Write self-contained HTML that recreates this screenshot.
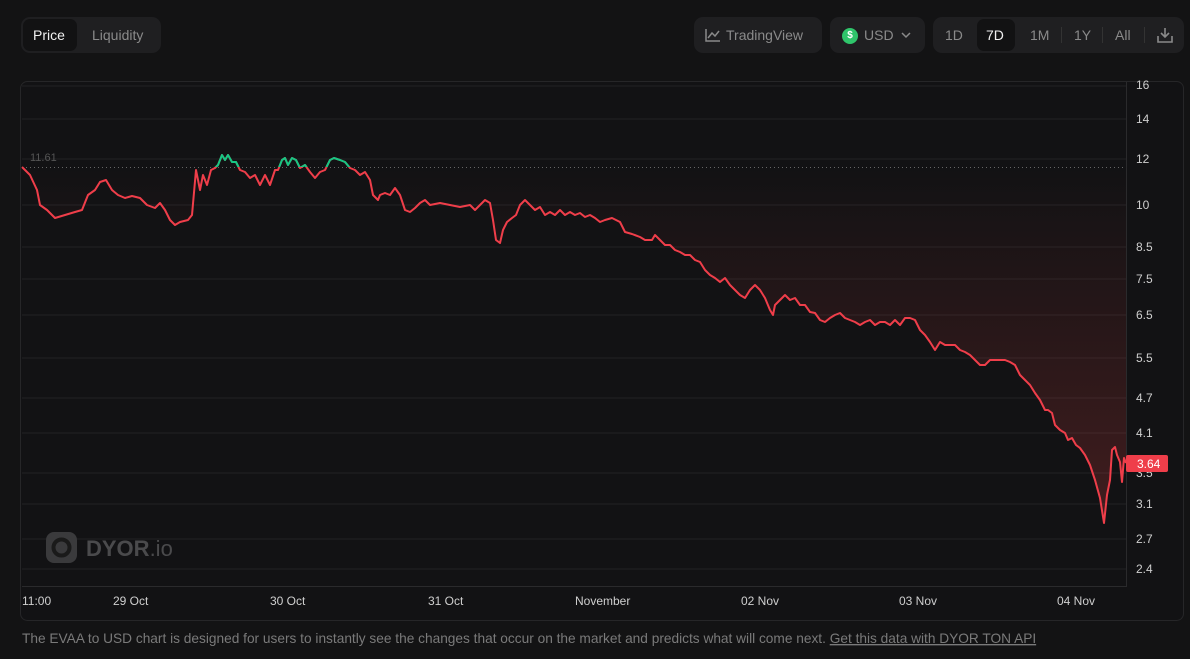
<!DOCTYPE html>
<html><head><style>
body{margin:0;background:#131314;font-family:"Liberation Sans",sans-serif;width:1190px;height:659px;overflow:hidden;position:relative;color:#ddd}
.box{position:absolute;background:#1f1f21;border-radius:9px}
.t{position:absolute;font-size:14px}
</style></head><body>
<div class="box" style="left:21px;top:17px;width:140px;height:36px"></div>
<div class="box" style="left:23px;top:19px;width:54px;height:32px;background:#121213;border-radius:7px"></div>
<div class="t" style="left:33px;top:27px;color:#f0f0f0">Price</div>
<div class="t" style="left:92px;top:27px;color:#8a8a8a">Liquidity</div>

<div class="box" style="left:694px;top:17px;width:128px;height:36px"></div>
<svg style="position:absolute;left:705px;top:27px" width="16" height="16"><path d="M1 2V14H15M3 11L7 6L10 9L14 4" stroke="#8a8a8a" stroke-width="1.5" fill="none"/></svg>
<div class="t" style="left:726px;top:27px;color:#8a8a8a">TradingView</div>
<div class="box" style="left:830px;top:17px;width:95px;height:36px"></div>
<div style="position:absolute;left:842px;top:28px;width:16px;height:16px;border-radius:50%;background:#2fc56b;color:#fff;font-size:10px;font-weight:bold;text-align:center;line-height:16px">$</div>
<div class="t" style="left:864px;top:27px;color:#8a8a8a">USD</div>
<svg style="position:absolute;left:900px;top:31px" width="12" height="8"><path d="M2 2L6 6L10 2" stroke="#8a8a8a" stroke-width="1.5" fill="none"/></svg>
<div class="box" style="left:933px;top:17px;width:251px;height:36px"></div>
<div class="box" style="left:977px;top:19px;width:38px;height:32px;background:#121213;border-radius:7px"></div>
<div class="t" style="left:945px;top:27px;color:#8a8a8a">1D</div>
<div class="t" style="left:986px;top:27px;color:#f0f0f0">7D</div>
<div class="t" style="left:1030px;top:27px;color:#8a8a8a">1M</div>
<div class="t" style="left:1074px;top:27px;color:#8a8a8a">1Y</div>
<div class="t" style="left:1115px;top:27px;color:#8a8a8a">All</div>
<div style="position:absolute;left:1061px;top:27px;width:1px;height:16px;background:#333"></div>
<div style="position:absolute;left:1102px;top:27px;width:1px;height:16px;background:#333"></div>
<div style="position:absolute;left:1144px;top:27px;width:1px;height:16px;background:#333"></div>
<svg style="position:absolute;left:1156px;top:26px" width="18" height="18"><path d="M9 2V11M5 7L9 11L13 7M2 10V16H16V10" stroke="#8a8a8a" stroke-width="1.6" fill="none"/></svg>

<svg style="position:absolute;left:0;top:0" width="1190" height="659">
<defs>
<linearGradient id="g" x1="0" y1="167" x2="0" y2="530" gradientUnits="userSpaceOnUse"><stop offset="0" stop-color="#ef4444" stop-opacity="0"/><stop offset="1" stop-color="#ef4444" stop-opacity="0.22"/></linearGradient>
<clipPath id="up"><rect x="0" y="0" width="1190" height="167"/></clipPath>
</defs>
<rect x="20.5" y="81.5" width="1163" height="539" rx="7" fill="#121214" stroke="#262628"/>
<g stroke="#222225" stroke-width="1">
<line x1="22" x2="1126" y1="86" y2="86"/><line x1="22" x2="1126" y1="119" y2="119"/><line x1="22" x2="1126" y1="159" y2="159"/><line x1="22" x2="1126" y1="205" y2="205"/><line x1="22" x2="1126" y1="247" y2="247"/><line x1="22" x2="1126" y1="279" y2="279"/><line x1="22" x2="1126" y1="315" y2="315"/><line x1="22" x2="1126" y1="358" y2="358"/><line x1="22" x2="1126" y1="398" y2="398"/><line x1="22" x2="1126" y1="433" y2="433"/><line x1="22" x2="1126" y1="473" y2="473"/><line x1="22" x2="1126" y1="504" y2="504"/><line x1="22" x2="1126" y1="539" y2="539"/><line x1="22" x2="1126" y1="569" y2="569"/>
</g>
<line x1="22" x2="1126" y1="586.5" y2="586.5" stroke="#2a2a2c"/>
<line x1="1126.5" x2="1126.5" y1="82" y2="587" stroke="#2a2a2c"/>
<line x1="22" x2="1126" y1="167.5" y2="167.5" stroke="#666" stroke-dasharray="1 3"/>
<text x="30" y="161" fill="#555" font-size="11">11.61</text>
<g fill="#cfcfcf" font-size="12"><text x="1136" y="89">16</text><text x="1136" y="123">14</text><text x="1136" y="163">12</text><text x="1136" y="209">10</text><text x="1136" y="251">8.5</text><text x="1136" y="283">7.5</text><text x="1136" y="319">6.5</text><text x="1136" y="362">5.5</text><text x="1136" y="402">4.7</text><text x="1136" y="437">4.1</text><text x="1136" y="477">3.5</text><text x="1136" y="508">3.1</text><text x="1136" y="543">2.7</text><text x="1136" y="573">2.4</text></g>
<g fill="#cfcfcf" font-size="12"><text x="22" y="605">11:00</text><text x="113" y="605">29 Oct</text><text x="270" y="605">30 Oct</text><text x="428" y="605">31 Oct</text><text x="575" y="605">November</text><text x="741" y="605">02 Nov</text><text x="899" y="605">03 Nov</text><text x="1057" y="605">04 Nov</text></g>
<polygon fill="url(#g)" points="22,167 30,175 37,190 40,205 47,210 55,218 65,215 75,212 82,210 88,195 95,190 100,182 106,180 112,190 118,195 125,198 132,196 140,198 147,205 155,208 160,203 165,210 170,220 175,225 180,222 188,220 192,215 196,170 200,190 203,175 207,185 211,170 215,168 218,165 222,155 225,160 228,155 232,162 236,162 240,170 245,172 250,178 255,175 260,185 265,175 270,185 275,170 278,170 282,160 285,158 288,165 292,158 296,160 300,168 305,165 310,172 315,178 320,172 325,170 330,160 334,158 340,160 345,162 350,168 355,170 360,175 365,172 370,180 373,195 378,200 380,195 385,193 390,195 395,188 400,195 405,210 410,212 415,208 420,203 425,200 430,205 440,203 450,205 460,207 470,205 475,210 480,205 485,200 490,203 493,220 496,240 500,243 503,230 507,222 512,218 516,215 520,205 525,200 530,205 535,210 540,207 545,215 550,212 555,215 560,210 565,215 570,212 575,215 580,213 585,217 590,215 595,218 600,222 605,220 612,218 620,222 625,232 632,234 640,237 645,240 652,240 655,235 660,240 665,245 670,245 675,250 680,252 685,255 690,255 695,260 700,262 705,270 710,275 715,278 720,282 725,278 730,285 735,290 740,295 745,298 750,290 755,285 760,290 765,298 770,310 773,315 775,305 780,300 785,295 790,300 795,298 800,305 805,305 810,312 815,313 820,320 825,322 830,318 835,315 840,313 845,318 850,320 855,322 860,325 865,322 870,320 875,325 880,322 885,322 890,325 895,320 900,325 905,318 910,318 915,320 920,330 925,335 930,342 935,350 940,342 945,345 950,345 955,345 960,350 965,352 970,355 975,360 980,365 985,365 990,360 995,360 1000,360 1005,360 1010,362 1015,365 1020,375 1025,380 1030,385 1035,393 1040,400 1045,410 1048,410 1052,413 1055,425 1060,430 1065,433 1068,440 1072,438 1076,445 1080,448 1085,455 1090,465 1095,480 1100,498 1104,523 1107,495 1110,480 1112,450 1115,447 1117,455 1120,462 1122,482 1124,458 1126,463 1126,167"/>
<polyline fill="none" stroke="#ef3e4a" stroke-width="2" stroke-linejoin="round" points="22,167 30,175 37,190 40,205 47,210 55,218 65,215 75,212 82,210 88,195 95,190 100,182 106,180 112,190 118,195 125,198 132,196 140,198 147,205 155,208 160,203 165,210 170,220 175,225 180,222 188,220 192,215 196,170 200,190 203,175 207,185 211,170 215,168 218,165 222,155 225,160 228,155 232,162 236,162 240,170 245,172 250,178 255,175 260,185 265,175 270,185 275,170 278,170 282,160 285,158 288,165 292,158 296,160 300,168 305,165 310,172 315,178 320,172 325,170 330,160 334,158 340,160 345,162 350,168 355,170 360,175 365,172 370,180 373,195 378,200 380,195 385,193 390,195 395,188 400,195 405,210 410,212 415,208 420,203 425,200 430,205 440,203 450,205 460,207 470,205 475,210 480,205 485,200 490,203 493,220 496,240 500,243 503,230 507,222 512,218 516,215 520,205 525,200 530,205 535,210 540,207 545,215 550,212 555,215 560,210 565,215 570,212 575,215 580,213 585,217 590,215 595,218 600,222 605,220 612,218 620,222 625,232 632,234 640,237 645,240 652,240 655,235 660,240 665,245 670,245 675,250 680,252 685,255 690,255 695,260 700,262 705,270 710,275 715,278 720,282 725,278 730,285 735,290 740,295 745,298 750,290 755,285 760,290 765,298 770,310 773,315 775,305 780,300 785,295 790,300 795,298 800,305 805,305 810,312 815,313 820,320 825,322 830,318 835,315 840,313 845,318 850,320 855,322 860,325 865,322 870,320 875,325 880,322 885,322 890,325 895,320 900,325 905,318 910,318 915,320 920,330 925,335 930,342 935,350 940,342 945,345 950,345 955,345 960,350 965,352 970,355 975,360 980,365 985,365 990,360 995,360 1000,360 1005,360 1010,362 1015,365 1020,375 1025,380 1030,385 1035,393 1040,400 1045,410 1048,410 1052,413 1055,425 1060,430 1065,433 1068,440 1072,438 1076,445 1080,448 1085,455 1090,465 1095,480 1100,498 1104,523 1107,495 1110,480 1112,450 1115,447 1117,455 1120,462 1122,482 1124,458 1126,463"/>
<polyline fill="none" stroke="#16c784" stroke-width="2" stroke-linejoin="round" clip-path="url(#up)" points="192,215 196,170 200,190 203,175 207,185 211,170 215,168 218,165 222,155 225,160 228,155 232,162 236,162 240,170 245,172 250,178 255,175 260,185 265,175 270,185 275,170 278,170 282,160 285,158 288,165 292,158 296,160 300,168 305,165 310,172 315,178 320,172 325,170 330,160 334,158 340,160 345,162 350,168 355,170"/>
<rect x="1126" y="455" width="42" height="17" fill="#ef3e4a" rx="2"/>
<text x="1137" y="468" fill="#fff" font-size="12">3.64</text>
<rect x="46" y="532" width="31" height="31" rx="8" fill="#3a3a3c"/>
<circle cx="61.5" cy="547.5" r="8" fill="none" stroke="#1a1a1a" stroke-width="4"/>
<text x="86" y="556" fill="#4a4a4c" font-size="22" font-weight="bold">DYOR<tspan font-weight="normal">.io</tspan></text>
<text x="22" y="643" fill="#7a7a7a" font-size="13.7">The EVAA to USD chart is designed for users to instantly see the changes that occur on the market and predicts what will come next. <tspan text-decoration="underline">Get this data with DYOR TON API</tspan></text>
</svg>
</body></html>
